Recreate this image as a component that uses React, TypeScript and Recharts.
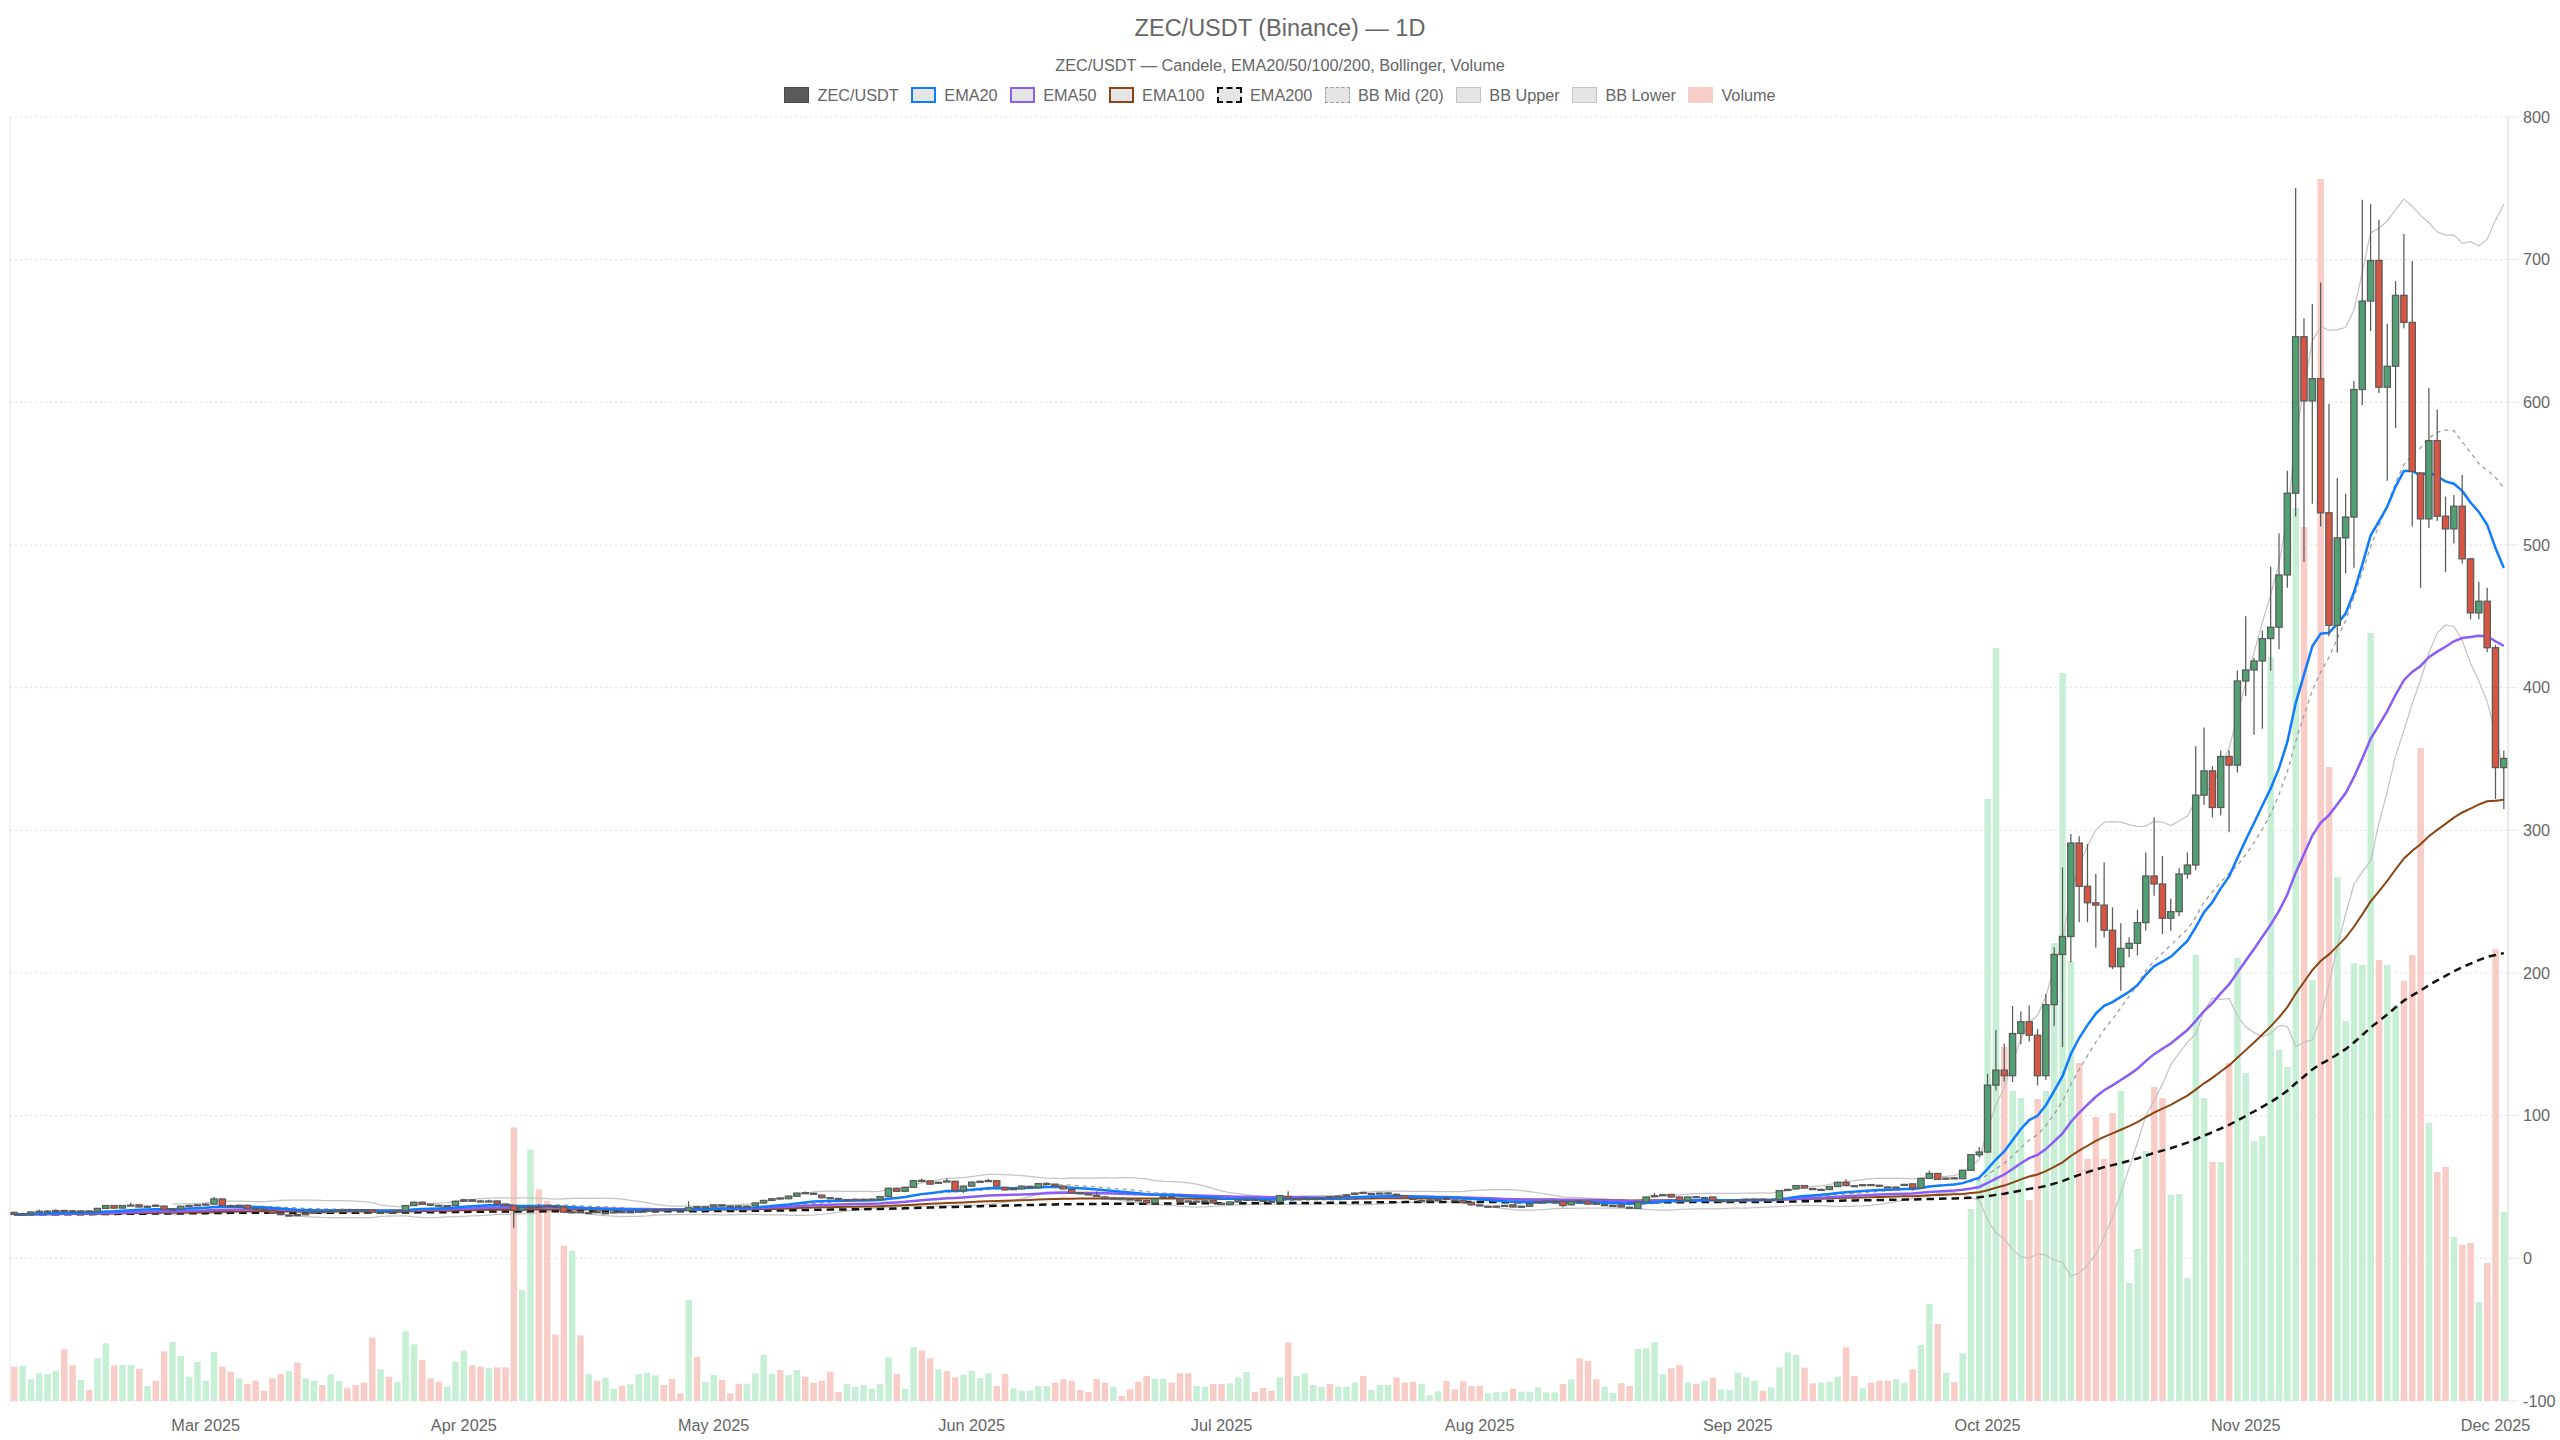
import React from 'react';
import { ComposedChart, Bar, Line, XAxis, YAxis, CartesianGrid } from 'recharts';

const FONT = '"Liberation Sans", Arial, Helvetica, sans-serif';
const TEXT = '#666';
const UP = '#50a073';
const DOWN = '#d75541';
const CANDLE_EDGE = '#5a5a5a';
const VOL_UP = '#c6efd6';
const VOL_DOWN = '#f8cdc7';
const EMA20_C = '#0f7bff';
const EMA50_C = '#8b5cf6';
const EMA100_C = '#8b4513';
const EMA200_C = '#111111';
const BB_MID_C = '#9a9a9a';
const BB_BAND_C = '#c4c4c4';

// ---- categories (daily candles, 2025-02-06 .. 2025-12-02) ----
const firstDay = Date.UTC(2025, 1, 6);
const dates: string[] = Array.from({ length: 300 }, (_, i) =>
  new Date(firstDay + i * 86400000).toISOString().slice(0, 10)
);

const monthTickDates = ['2025-03-01', '2025-04-01', '2025-05-01', '2025-06-01', '2025-07-01', '2025-08-01', '2025-09-01', '2025-10-01', '2025-11-01', '2025-12-01'];
const monthTickLabels = ['Mar 2025', 'Apr 2025', 'May 2025', 'Jun 2025', 'Jul 2025', 'Aug 2025', 'Sep 2025', 'Oct 2025', 'Nov 2025', 'Dec 2025'];
// positions (in candle index units) of the time-axis grid lines
const timeGridTicks = [7.5, 38.6, 69.1, 99.6, 130.1, 160.5, 191.5, 222.0, 252.5, 283.0];
const priceTicks = [-100, 0, 100, 200, 300, 400, 500, 600, 700, 800];

// ---- OHLC ----
const opens = [
  32.2, 30.8, 31.0, 32.5, 33.0, 33.1, 33.5, 33.3, 33.0, 33.2,
  32.8, 35.0, 37.0, 35.2, 37.0, 37.5, 36.0, 37.2, 36.6, 34.2,
  34.5, 36.5, 37.0, 37.5, 38.0, 41.6, 37.0, 36.2, 37.2, 35.0,
  34.5, 33.6, 31.6, 30.0, 30.6, 30.5, 31.5, 32.7, 32.4, 33.0,
  34.2, 34.1, 34.1, 34.0, 32.4, 32.7, 32.4, 33.3, 37.0, 39.3,
  37.9, 37.2, 36.7, 37.0, 40.0, 41.0, 40.2, 39.9, 40.2, 38.1,
  37.0, 33.6, 35.5, 36.2, 37.0, 36.6, 36.0, 32.2, 32.8, 31.8,
  32.7, 31.6, 32.1, 32.7, 32.3, 32.6, 33.0, 33.6, 34.0, 34.2,
  33.9, 33.4, 36.2, 35.8, 36.0, 37.5, 36.7, 36.7, 36.3, 36.8,
  38.8, 40.6, 42.3, 41.8, 43.5, 46.0, 45.6, 44.3, 42.5, 42.0,
  40.9, 41.1, 41.2, 41.2, 41.3, 43.3, 49.1, 47.0, 49.8, 54.6,
  54.3, 52.6, 54.2, 54.0, 47.5, 50.6, 53.6, 54.2, 54.4, 49.8,
  48.5, 48.7, 50.1, 49.6, 52.2, 52.0, 50.6, 48.2, 46.0, 45.2,
  44.2, 43.0, 42.0, 42.2, 41.6, 40.9, 40.6, 38.8, 42.8, 43.2,
  41.8, 40.2, 39.9, 40.0, 40.6, 38.6, 37.8, 39.5, 41.0, 41.2,
  40.6, 40.0, 39.5, 43.3, 41.6, 41.9, 42.0, 42.2, 43.2, 43.2,
  43.8, 44.9, 46.2, 45.1, 45.4, 45.5, 44.9, 44.0, 42.0, 40.4,
  40.8, 40.8, 42.0, 40.9, 40.6, 39.3, 37.4, 36.3, 36.3, 36.8,
  37.5, 36.2, 36.5, 39.2, 39.8, 39.8, 40.0, 37.5, 40.2, 40.0,
  38.6, 37.2, 36.8, 37.5, 35.8, 35.0, 39.5, 43.6, 44.2, 44.8,
  43.0, 40.3, 43.2, 42.3, 43.0, 40.1, 40.1, 40.5, 41.2, 41.2,
  41.5, 40.9, 41.0, 47.9, 48.7, 51.0, 48.9, 48.0, 48.2, 50.3,
  53.3, 50.9, 51.3, 51.7, 51.2, 50.0, 49.6, 51.4, 52.2, 49.3,
  56.0, 59.5, 55.8, 56.4, 55.8, 61.7, 72.6, 74.5, 121.4, 131.9,
  128.0, 157.6, 165.8, 156.4, 128.0, 177.8, 213.0, 225.6, 291.1, 260.8,
  249.2, 247.6, 230.0, 204.4, 217.3, 220.8, 235.3, 268.0, 262.4, 238.4,
  243.0, 269.4, 275.7, 324.7, 341.7, 316.0, 351.8, 345.7, 404.7, 412.4,
  418.7, 434.4, 442.4, 479.0, 536.3, 646.0, 601.0, 616.6, 522.6, 443.7,
  505.0, 519.6, 609.0, 671.0, 699.4, 610.6, 625.3, 675.0, 656.0, 550.5,
  518.3, 573.2, 520.2, 511.3, 527.2, 490.3, 452.4, 460.6, 428.0, 344.0,
];

const highs = [
  32.6, 31.6, 32.9, 34.2, 33.8, 34.4, 34.0, 33.9, 33.7, 33.6,
  35.4, 37.4, 37.3, 37.4, 39.2, 37.8, 37.0, 37.9, 36.9, 35.0,
  36.9, 37.5, 38.0, 38.5, 43.0, 42.0, 37.5, 37.6, 37.5, 35.3,
  34.9, 33.9, 31.9, 30.9, 31.0, 31.9, 32.9, 33.0, 33.4, 34.4,
  34.5, 34.4, 34.4, 34.3, 33.0, 33.0, 33.9, 37.4, 39.7, 39.6,
  38.2, 37.5, 37.4, 40.4, 41.8, 41.3, 41.0, 41.0, 40.5, 38.4,
  37.3, 36.2, 36.8, 38.0, 37.5, 37.0, 36.3, 33.0, 33.1, 32.5,
  33.0, 32.3, 32.9, 33.0, 33.0, 33.4, 34.2, 34.3, 34.3, 34.5,
  34.2, 40.0, 36.6, 36.5, 37.9, 37.8, 37.0, 37.0, 37.0, 39.2,
  41.0, 42.3, 42.6, 44.0, 46.1, 46.8, 46.0, 44.6, 42.8, 42.3,
  41.6, 41.8, 41.8, 41.9, 43.7, 49.5, 49.5, 50.2, 54.8, 56.0,
  54.6, 53.7, 56.0, 54.3, 51.0, 53.8, 54.5, 55.8, 54.7, 50.1,
  49.3, 51.0, 50.9, 52.8, 53.2, 52.3, 50.9, 48.5, 46.4, 45.5,
  46.8, 43.3, 42.7, 42.5, 41.9, 41.2, 40.9, 42.2, 43.5, 43.5,
  42.1, 40.5, 40.6, 40.7, 40.9, 38.9, 39.9, 41.4, 41.8, 41.5,
  40.9, 40.3, 44.4, 47.0, 42.3, 42.6, 42.7, 42.9, 43.5, 44.0,
  44.9, 46.1, 46.8, 45.9, 46.2, 46.3, 45.3, 44.3, 42.3, 41.1,
  41.4, 41.5, 43.0, 41.3, 40.9, 39.6, 37.7, 36.9, 37.0, 37.5,
  37.8, 36.9, 38.7, 40.0, 40.5, 40.5, 40.3, 40.4, 40.5, 40.3,
  40.2, 38.0, 37.5, 37.8, 36.1, 39.9, 43.4, 45.8, 45.2, 45.1,
  43.3, 43.4, 43.7, 43.1, 43.3, 40.8, 40.8, 41.2, 41.9, 41.9,
  41.8, 41.5, 47.9, 48.8, 51.4, 51.3, 49.2, 48.7, 50.7, 53.7,
  55.5, 51.2, 52.0, 52.0, 51.5, 50.3, 50.4, 52.2, 52.5, 56.4,
  61.5, 59.8, 56.7, 56.8, 62.1, 73.1, 78.0, 129.4, 159.8, 150.4,
  176.9, 173.0, 177.2, 160.8, 185.3, 218.0, 274.0, 297.5, 295.8, 290.3,
  269.4, 277.5, 246.0, 234.8, 225.0, 244.4, 284.5, 309.1, 282.0, 252.0,
  273.4, 284.5, 359.0, 372.0, 345.0, 356.0, 356.0, 412.0, 450.0, 421.0,
  440.0, 485.0, 508.0, 552.0, 750.3, 659.0, 669.0, 684.0, 599.0, 547.0,
  536.0, 615.0, 742.0, 739.0, 728.0, 655.0, 685.0, 718.0, 699.0, 551.0,
  610.0, 595.0, 534.0, 535.0, 549.0, 491.0, 474.0, 470.0, 430.0, 355.8,
];

const lows = [
  30.3, 30.2, 30.8, 32.2, 32.5, 32.8, 32.9, 32.6, 32.5, 32.6,
  32.5, 34.8, 34.8, 35.0, 36.6, 35.6, 35.6, 36.2, 33.8, 33.6,
  34.2, 36.1, 36.7, 37.2, 37.7, 36.5, 36.0, 35.9, 34.7, 34.0,
  33.4, 31.2, 30.2, 29.6, 29.9, 30.2, 31.2, 32.0, 32.1, 32.8,
  33.6, 33.5, 33.4, 32.0, 32.0, 32.0, 32.1, 33.0, 36.8, 37.5,
  36.8, 36.3, 36.4, 36.8, 39.7, 39.6, 39.5, 39.5, 37.8, 36.6,
  21.5, 32.8, 35.0, 35.2, 36.2, 35.6, 32.0, 31.6, 32.0, 31.4,
  32.0, 31.2, 31.8, 32.0, 32.0, 32.3, 32.7, 33.3, 33.4, 33.6,
  33.3, 33.1, 35.5, 35.5, 35.7, 36.3, 36.0, 36.0, 36.0, 36.5,
  38.5, 40.3, 41.5, 41.5, 43.2, 45.2, 44.8, 42.2, 41.5, 41.4,
  40.6, 40.8, 40.9, 40.9, 41.0, 43.0, 46.6, 46.7, 49.5, 53.8,
  51.6, 52.3, 53.6, 47.1, 45.8, 50.3, 53.3, 53.8, 50.2, 47.6,
  48.1, 48.4, 49.8, 49.3, 51.9, 50.3, 48.4, 45.5, 45.3, 44.4,
  43.6, 41.5, 41.7, 41.5, 40.9, 40.2, 38.4, 38.5, 42.5, 42.5,
  39.6, 39.6, 39.6, 39.7, 38.5, 37.9, 37.5, 39.2, 40.7, 40.3,
  39.6, 39.2, 39.2, 41.4, 41.2, 41.6, 41.7, 41.9, 42.6, 42.9,
  43.5, 44.6, 45.5, 44.8, 45.1, 45.2, 44.1, 41.8, 41.4, 40.1,
  40.5, 40.5, 41.4, 40.2, 38.6, 37.1, 36.7, 36.0, 36.0, 36.5,
  35.7, 35.9, 36.2, 38.9, 39.5, 39.5, 35.6, 37.2, 39.5, 37.6,
  37.8, 37.0, 36.5, 35.7, 35.0, 34.7, 39.2, 43.3, 43.9, 42.6,
  40.2, 40.0, 42.5, 42.0, 40.2, 39.8, 39.8, 40.2, 40.9, 40.9,
  40.8, 40.6, 40.7, 47.3, 48.4, 49.0, 48.2, 47.7, 47.9, 50.0,
  50.6, 50.2, 51.0, 51.0, 50.5, 49.3, 49.3, 51.1, 47.5, 49.0,
  55.7, 55.0, 55.5, 55.6, 55.5, 61.4, 71.0, 73.8, 117.7, 124.0,
  123.5, 150.0, 152.0, 121.2, 125.0, 163.0, 148.0, 207.5, 235.6, 235.6,
  217.8, 224.8, 202.8, 187.6, 211.0, 212.2, 229.7, 254.2, 227.3, 229.7,
  240.0, 266.0, 272.0, 318.0, 309.0, 310.6, 298.6, 340.5, 394.0, 367.0,
  371.2, 411.8, 427.0, 470.0, 520.0, 488.0, 529.0, 513.0, 436.0, 424.6,
  480.0, 484.0, 598.0, 650.0, 606.6, 545.0, 582.0, 652.0, 513.0, 470.0,
  512.0, 516.8, 481.0, 501.0, 487.0, 448.0, 448.0, 425.0, 322.0, 315.0,
];

const closes = [
  30.8, 31.0, 32.5, 33.0, 33.1, 33.5, 33.3, 33.0, 33.2, 33.0,
  35.0, 37.0, 35.2, 37.0, 37.3, 36.0, 36.5, 36.6, 34.2, 34.5,
  36.5, 37.0, 37.5, 38.0, 41.6, 37.0, 36.5, 37.2, 35.0, 34.5,
  33.8, 31.6, 30.6, 30.3, 30.4, 31.5, 32.5, 32.4, 33.0, 34.0,
  33.9, 33.9, 33.8, 32.4, 32.6, 32.4, 33.5, 37.0, 39.3, 37.9,
  37.2, 36.7, 37.0, 40.0, 41.0, 40.0, 40.0, 40.2, 38.1, 37.0,
  33.6, 35.5, 36.0, 35.8, 36.6, 36.0, 32.4, 32.6, 32.4, 32.1,
  32.4, 31.9, 32.5, 32.4, 32.6, 33.0, 33.8, 33.9, 33.7, 33.9,
  33.6, 35.5, 35.9, 36.1, 37.5, 36.6, 36.4, 36.4, 36.6, 38.8,
  40.6, 41.8, 41.9, 43.6, 45.7, 45.6, 45.2, 42.5, 41.9, 41.8,
  41.2, 41.4, 41.4, 41.5, 43.3, 49.1, 47.0, 49.8, 54.4, 54.3,
  52.0, 53.3, 54.0, 47.5, 50.6, 53.4, 54.0, 54.5, 50.6, 48.0,
  48.8, 50.6, 50.4, 52.4, 52.5, 50.6, 48.7, 45.8, 45.7, 44.8,
  44.0, 41.8, 42.3, 41.9, 41.3, 40.6, 38.8, 41.8, 43.1, 42.9,
  40.0, 40.0, 40.1, 40.3, 38.8, 38.3, 39.5, 41.0, 41.3, 40.6,
  40.0, 39.6, 44.0, 41.8, 41.9, 42.2, 42.2, 42.4, 43.0, 43.6,
  44.5, 45.7, 45.9, 45.4, 45.7, 45.8, 44.5, 42.2, 41.8, 40.7,
  41.0, 41.1, 41.8, 40.6, 39.0, 37.5, 37.1, 36.5, 36.6, 37.1,
  36.0, 36.5, 38.3, 39.6, 40.1, 40.1, 37.0, 40.0, 39.9, 38.0,
  38.2, 37.6, 37.1, 36.0, 35.4, 39.5, 43.0, 44.0, 44.6, 43.0,
  40.6, 43.0, 42.9, 42.6, 40.6, 40.4, 40.4, 40.8, 41.4, 41.5,
  41.2, 41.1, 47.5, 48.3, 51.0, 49.3, 48.6, 48.3, 50.3, 53.3,
  51.0, 50.6, 51.6, 51.4, 50.9, 49.7, 49.9, 51.8, 49.3, 56.0,
  59.5, 55.3, 56.2, 56.0, 61.7, 72.7, 74.5, 121.4, 131.9, 128.0,
  157.6, 165.8, 156.4, 128.0, 177.8, 213.0, 225.6, 291.1, 260.8, 249.2,
  247.6, 230.0, 204.4, 217.3, 220.8, 235.3, 268.0, 262.4, 238.4, 243.0,
  269.4, 275.7, 324.7, 341.7, 316.0, 351.8, 345.7, 404.7, 412.4, 418.7,
  434.4, 442.4, 479.0, 536.3, 646.0, 601.0, 616.6, 522.6, 443.7, 505.0,
  519.6, 609.0, 671.0, 699.4, 610.6, 625.3, 675.0, 656.0, 551.6, 518.3,
  573.2, 520.2, 511.3, 527.2, 490.3, 452.4, 460.6, 428.0, 344.0, 350.4,
];

const volumes = [
  34.3, 35, 21.7, 27.7, 27, 30.3, 51.7, 35.7, 21, 11,
  42.7, 57.7, 35.7, 36, 36, 32.3, 15, 20.3, 49.7, 59,
  45, 24.3, 39, 20.3, 49, 34.3, 29.3, 22.7, 17, 20.3,
  10.3, 22.7, 27, 30, 38.3, 22.7, 20.3, 16, 26.7, 20.3,
  12.7, 16, 18.3, 63.3, 31.7, 24.3, 19, 69.7, 56.7, 41,
  22.7, 19.3, 14.3, 39, 50.3, 35.7, 34.3, 32.7, 33.7, 33.7,
  273.7, 111, 251.7, 211.7, 200.3, 66.3, 155.3, 150, 65.7, 26.7,
  20.3, 23.3, 12.3, 15.3, 16.7, 27, 28.3, 25.7, 16, 22,
  7.7, 101, 44, 19.3, 26, 21, 7.7, 17.3, 17.3, 27.7,
  46.3, 27, 31, 26, 31, 24.3, 18.3, 20.3, 29.3, 9,
  17, 14.3, 16, 12.3, 17, 43.7, 27, 12.3, 53.7, 50.3,
  42.7, 31.7, 30, 23.7, 26.3, 30, 23, 27.7, 15, 27,
  12.7, 10.3, 10.3, 15, 15, 18.3, 21.7, 20.3, 11, 9,
  22, 18.3, 14.3, 5, 11.7, 19.3, 25, 22.3, 22.3, 18.3,
  27.7, 27.7, 15, 14.3, 17, 17, 17.7, 23.7, 29, 9,
  13, 10.3, 23.7, 58.7, 25, 27.7, 16, 14.3, 17, 14.3,
  14.3, 18.3, 25, 11, 16, 16, 23.7, 18.3, 19.3, 17,
  5.7, 9.7, 20, 11.7, 20, 15, 15, 7.7, 8.7, 9.3,
  12.3, 9.3, 9.3, 13.7, 8.7, 8.7, 17, 21.7, 42.7, 40,
  21.7, 14.3, 8.3, 17.7, 15, 52, 52.7, 58.7, 27, 32.7,
  36, 18.3, 17, 20.3, 23.3, 11.7, 11, 28.3, 23.7, 20.3,
  10.3, 13.7, 33.7, 48.7, 46, 33.3, 17.7, 18.3, 19.3, 24.3,
  53.7, 25, 12.7, 18.3, 20.3, 20.3, 21.7, 18.3, 31.7, 56,
  97, 77, 28.3, 18.7, 47.7, 192, 220, 602, 753, 354,
  310, 303, 201, 302, 310, 458, 728, 440, 338, 242,
  284, 242, 288, 310, 118, 152, 250, 314, 303, 206,
  207, 123, 446, 303, 239, 239, 338, 443, 328, 260,
  265, 744, 351, 334, 893, 874, 421, 1222, 634, 524,
  380, 438, 436, 768, 441, 436, 396, 420, 446, 653,
  278, 229, 234, 164, 156, 158, 99, 138, 452, 189,
];

// ---- indicators derived from the closes ----
function emaOf(src: number[], n: number): number[] {
  const k = 2 / (n + 1);
  const out: number[] = [];
  src.forEach((v, i) => out.push(i === 0 ? v : v * k + out[i - 1] * (1 - k)));
  return out;
}
function bollingerOf(src: number[], n: number, mult: number) {
  return src.map((_, i) => {
    if (i < n - 1) return { mid: null, upper: null, lower: null };
    const win = src.slice(i - n + 1, i + 1);
    const m = win.reduce((a, b) => a + b, 0) / n;
    const sd = Math.sqrt(win.reduce((a, b) => a + (b - m) * (b - m), 0) / n);
    return { mid: m, upper: m + mult * sd, lower: m - mult * sd };
  });
}
const ema20 = emaOf(closes, 20);
const ema50 = emaOf(closes, 50);
const ema100 = emaOf(closes, 100);
const ema200 = emaOf(closes, 200);
const bb = bollingerOf(closes, 20, 2);

const rows = dates.map((date, i) => ({
  t: i,
  date,
  open: opens[i],
  high: highs[i],
  low: lows[i],
  close: closes[i],
  range: [lows[i], highs[i]],
  volume: volumes[i],
  ema20: ema20[i],
  ema50: ema50[i],
  ema100: ema100[i],
  ema200: ema200[i],
  bbMid: bb[i].mid,
  bbUpper: bb[i].upper,
  bbLower: bb[i].lower,
}));

const monthTickIdx = monthTickDates.map((d) => dates.indexOf(d));
const monthLabelOf = (v: number) => {
  const k = monthTickIdx.indexOf(Math.round(v));
  return k >= 0 ? monthTickLabels[k] : '';
};

function Candle(props: any) {
  const { x, y, width, height, payload } = props;
  if (x == null || y == null || !payload) return null;
  const top = Math.min(y, y + height);
  const h = Math.abs(height);
  const { open, close, high, low } = payload;
  const span = high - low;
  const toY = (v: number) => (span > 0 ? top + ((high - v) / span) * h : top);
  const yo = toY(open);
  const yc = toY(close);
  const up = close >= open;
  const cx = x + width / 2;
  const bTop = Math.min(yo, yc);
  const bH = Math.max(Math.abs(yc - yo), 1);
  return (
    <g>
      <line x1={cx} x2={cx} y1={top} y2={top + h} stroke={CANDLE_EDGE} strokeWidth={1.25} />
      <rect x={x} y={bTop} width={width} height={bH} fill={up ? UP : DOWN} stroke={CANDLE_EDGE} strokeWidth={1.25} />
    </g>
  );
}

function VolumeBar(props: any) {
  const { x, y, width, height, payload } = props;
  if (x == null || y == null || !payload) return null;
  const up = payload.close >= payload.open;
  return <rect x={x} y={Math.min(y, y + height)} width={width} height={Math.abs(height)} fill={up ? VOL_UP : VOL_DOWN} />;
}

const legendItems = [
  { label: 'ZEC/USDT', fill: '#5a5a5a', border: '#4a4a4a', style: 'solid', bw: 1.25 },
  { label: 'EMA20', fill: 'rgba(0,0,0,0.1)', border: EMA20_C, style: 'solid', bw: 2.5 },
  { label: 'EMA50', fill: 'rgba(0,0,0,0.1)', border: EMA50_C, style: 'solid', bw: 2.5 },
  { label: 'EMA100', fill: 'rgba(0,0,0,0.1)', border: EMA100_C, style: 'solid', bw: 2 },
  { label: 'EMA200', fill: 'rgba(0,0,0,0.1)', border: EMA200_C, style: 'dashed', bw: 2.5 },
  { label: 'BB Mid (20)', fill: 'rgba(0,0,0,0.1)', border: BB_MID_C, style: 'dashed', bw: 1.25 },
  { label: 'BB Upper', fill: 'rgba(0,0,0,0.1)', border: BB_BAND_C, style: 'solid', bw: 1.25 },
  { label: 'BB Lower', fill: 'rgba(0,0,0,0.1)', border: BB_BAND_C, style: 'solid', bw: 1.25 },
  { label: 'Volume', fill: VOL_DOWN, border: VOL_DOWN, style: 'solid', bw: 0 },
];

const tickStyle = { fill: TEXT, fontSize: 16.25, fontFamily: FONT };

export default function App() {
  return (
    <div style={{ position: 'relative', width: 2560, height: 1440, fontFamily: FONT, color: TEXT, overflow: 'hidden' }}>
      <style>{'html,body{margin:0;padding:0;overflow:hidden;background:#fff;}'}</style>
      <div style={{ position: 'absolute', top: 16, left: 0, width: '100%', textAlign: 'center', fontSize: 23.5, lineHeight: '24px' }}>
        ZEC/USDT (Binance) — 1D
      </div>
      <div style={{ position: 'absolute', top: 57, left: 0, width: '100%', textAlign: 'center', fontSize: 16.25, lineHeight: '17px' }}>
        ZEC/USDT — Candele, EMA20/50/100/200, Bollinger, Volume
      </div>
      <div
        style={{
          position: 'absolute', top: 87, left: 0, width: '100%', display: 'flex', justifyContent: 'center',
          alignItems: 'center', gap: 12.5, fontSize: 16.25, lineHeight: '16px',
        }}
      >
        {legendItems.map((it) => (
          <div key={it.label} style={{ display: 'flex', alignItems: 'center' }}>
            <span
              style={{
                display: 'inline-block', width: 25, height: 16, boxSizing: 'border-box', background: it.fill,
                border: it.bw > 0 ? `${it.bw}px ${it.style} ${it.border}` : 'none', marginRight: 8.1,
              }}
            />
            <span>{it.label}</span>
          </div>
        ))}
      </div>
      <ComposedChart width={2560} height={1440} data={rows} margin={{ top: 117, right: 0, bottom: 0, left: 10 }}>
        <XAxis
          xAxisId="grid" dataKey="t" type="number" domain={[-0.5, 299.5]} ticks={timeGridTicks} interval={0}
          tick={false} axisLine={false} tickLine={{ stroke: '#e6e6e6' }} tickSize={11} height={0}
        />
        <XAxis
          xAxisId="main" dataKey="t" type="number" domain={[-0.5, 299.5]} ticks={monthTickIdx} interval={0}
          tickFormatter={monthLabelOf} tickLine={false} axisLine={false} tickSize={0} tickMargin={18.5} height={39}
          tick={tickStyle}
        />
        <XAxis xAxisId="vol" dataKey="t" type="number" domain={[-0.5, 299.5]} hide />
        <YAxis
          yAxisId="price" orientation="right" domain={[-100, 800]} ticks={priceTicks} interval={0} width={52}
          axisLine={{ stroke: '#e0e0e0' }} tickLine={{ stroke: '#e6e6e6' }} tickSize={10} tickMargin={5}
          tick={{ ...tickStyle, textAnchor: 'start' }}
        />
        <YAxis yAxisId="vol" domain={[0, 1284]} hide />
        <CartesianGrid xAxisId="grid" yAxisId="price" horizontal={false} stroke="#e6e6e6" />
        <CartesianGrid xAxisId="main" yAxisId="price" vertical={false} stroke="#dedede" strokeDasharray="2 3" />
        <Bar xAxisId="vol" yAxisId="vol" dataKey="volume" barSize={6.5} shape={VolumeBar} isAnimationActive={false} />
        <Line xAxisId="main" yAxisId="price" type="linear" dataKey="bbUpper" stroke={BB_BAND_C} strokeWidth={1.25} dot={false} activeDot={false} isAnimationActive={false} />
        <Line xAxisId="main" yAxisId="price" type="linear" dataKey="bbLower" stroke={BB_BAND_C} strokeWidth={1.25} dot={false} activeDot={false} isAnimationActive={false} />
        <Line xAxisId="main" yAxisId="price" type="linear" dataKey="bbMid" stroke={BB_MID_C} strokeWidth={1.25} strokeDasharray="4 4" dot={false} activeDot={false} isAnimationActive={false} />
        <Line xAxisId="main" yAxisId="price" type="linear" dataKey="ema200" stroke={EMA200_C} strokeWidth={2.5} strokeDasharray="7.5 5" dot={false} activeDot={false} isAnimationActive={false} />
        <Line xAxisId="main" yAxisId="price" type="linear" dataKey="ema100" stroke={EMA100_C} strokeWidth={2} dot={false} activeDot={false} isAnimationActive={false} />
        <Line xAxisId="main" yAxisId="price" type="linear" dataKey="ema50" stroke={EMA50_C} strokeWidth={2.5} dot={false} activeDot={false} isAnimationActive={false} />
        <Line xAxisId="main" yAxisId="price" type="linear" dataKey="ema20" stroke={EMA20_C} strokeWidth={2.5} dot={false} activeDot={false} isAnimationActive={false} />
        <Bar xAxisId="main" yAxisId="price" dataKey="range" barSize={6.3} shape={Candle} isAnimationActive={false} zIndex={450} />
      </ComposedChart>
    </div>
  );
}
